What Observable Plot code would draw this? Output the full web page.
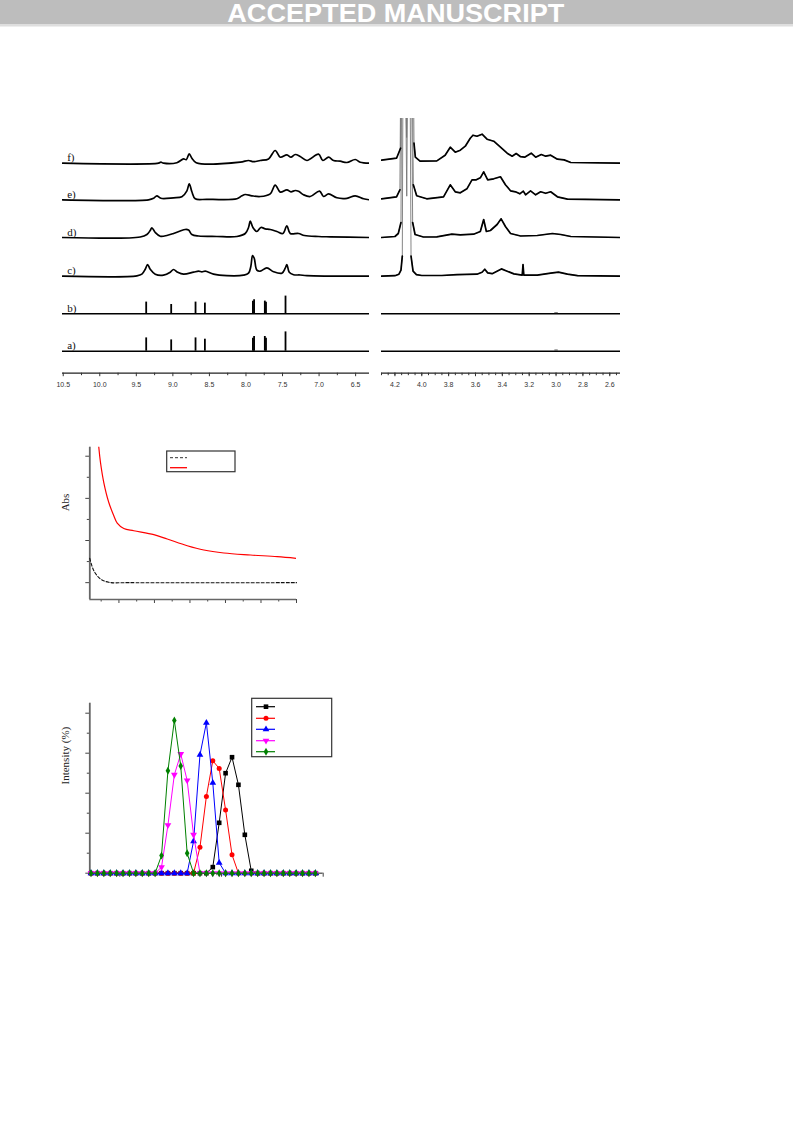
<!DOCTYPE html>
<html><head><meta charset="utf-8">
<script src="https://cdn.jsdelivr.net/npm/d3@7"></script>
<script src="https://cdn.jsdelivr.net/npm/@observablehq/plot@0.6"></script>
<style>
body{margin:0;background:#fff;}
#page{position:relative;width:793px;height:1121px;overflow:hidden;background:#fff;}
#page svg{position:absolute;overflow:visible;}
</style></head><body><div id="page"></div>
<script>
// ---------------- DATA ----------------
// 1H NMR, aromatic region (ppm, intensity in arbitrary units)
const nmrLeftMajorTicks = [10.5, 10.0, 9.5, 9.0, 8.5, 8.0, 7.5, 7.0, 6.5];
const nmrLeftMinorTicks = [10.25, 9.75, 9.25, 8.75, 8.25, 7.75, 7.25, 6.75];
const nmrRightMajorTicks = [4.2, 4.0, 3.8, 3.6, 3.4, 3.2, 3.0, 2.8, 2.6];
const nmrTraceLabels = ["a)", "b)", "c)", "d)", "e)", "f)"];

// sharp lines of traces a) and b)
const stickPpm = [9.365, 9.023, 8.69, 8.562, 7.905, 7.889, 7.742, 7.726, 7.459];
const stickA = [13.3, 11.3, 13.3, 12, 13, 14.7, 14.7, 13, 19.3];
const stickB = [11.7, 9.3, 11.7, 10.7, 12.5, 14, 12.7, 11.5, 17.7];
const stickRightPpm = [3.008, 3.0, 2.992];
const stickRightA = [1.3, 1.3, 1.3];
const stickRightB = [1.3, 1.3, 1.3];

const nmrLeftC = [[10.51,0],[9.492,0.3],[9.424,2],[9.378,7],[9.346,11.7],[9.31,7],[9.241,2],[9.128,1],[9.036,4],[8.991,6.7],[8.936,4],[8.854,2],[8.717,4],[8.649,5],[8.603,4.3],[8.557,5],[8.444,2],[8.261,0.5],[8.033,1],[7.965,3],[7.933,10],[7.91,20.7],[7.887,18],[7.851,6],[7.805,5],[7.714,8.3],[7.623,4.5],[7.509,3],[7.463,8],[7.44,11.7],[7.408,4],[7.349,1.5],[7.258,1.2],[7.166,0.5],[6.31,0]];
const nmrLeftD = [[10.51,0],[9.447,0.5],[9.355,3],[9.31,7],[9.287,9.7],[9.241,5],[9.173,1.3],[9.082,2],[8.991,4],[8.9,6.5],[8.831,8],[8.786,7.5],[8.74,3],[8.649,1.5],[8.398,1],[8.124,1],[8.01,4],[7.965,10],[7.942,16.3],[7.905,10],[7.851,6],[7.796,10],[7.737,8.7],[7.668,8],[7.577,6],[7.495,4],[7.44,11.7],[7.395,4],[7.281,4],[7.2,2],[7.007,1],[6.847,0.7],[6.31,0]];
const nmrLeftE = [[10.51,0],[9.333,0],[9.264,1.5],[9.219,4],[9.164,1.5],[8.991,2],[8.877,3],[8.808,9],[8.776,16],[8.74,8],[8.694,1],[8.535,0.5],[8.124,1],[8.056,4],[8.01,5.3],[7.919,4],[7.805,3.3],[7.668,6],[7.6,14.7],[7.531,7.7],[7.44,10],[7.385,8],[7.326,9.3],[7.281,8.5],[7.212,5],[7.121,3.3],[6.993,8.7],[6.939,3.3],[6.87,6],[6.756,2],[6.619,1.5],[6.505,4],[6.391,1],[6.31,0]];
const nmrLeftF = [[10.51,0],[9.196,0],[9.164,1],[9.128,0],[8.945,0.5],[8.854,4.3],[8.817,3.5],[8.776,9.3],[8.74,5],[8.681,0.5],[8.079,1],[7.965,2.7],[7.897,1.5],[7.805,2.7],[7.691,4.3],[7.6,12.7],[7.531,6],[7.44,8.3],[7.385,6],[7.326,8.7],[7.258,6.7],[7.166,2.7],[7.007,9],[6.948,2.7],[6.87,6],[6.802,2.7],[6.711,2],[6.619,0.7],[6.505,3.7],[6.437,1],[6.31,0]];

// aliphatic region
const nmrRightC = [[4.30,0],[4.20,0.5],[4.17,2],[4.155,6],[4.145,20],[4.135,400],[4.112,80],[4.095,400],[4.08,20],[4.065,5],[4.04,1.5],[4.0,0.7],[3.85,0.7],[3.738,1.5],[3.589,2],[3.551,4],[3.531,7],[3.509,3.3],[3.476,2.5],[3.407,7.3],[3.364,5],[3.314,2.3],[3.252,1],[3.246,11.7],[3.24,1],[3.14,1],[3.04,3],[2.982,4],[2.915,2],[2.84,0.5],[2.52,0]];
const nmrRightD = [[4.30,0],[4.20,1],[4.175,4],[4.155,15],[4.142,400],[4.113,100],[4.088,400],[4.068,15],[4.05,3],[3.988,0.5],[3.888,0.7],[3.776,3.3],[3.713,2.7],[3.614,3.3],[3.564,6],[3.539,18],[3.519,6],[3.489,7],[3.439,13],[3.409,18.7],[3.377,11],[3.339,4],[3.264,1.5],[3.14,2],[3.027,4],[2.965,3],[2.89,1],[2.52,0]];
const nmrRightE = [[4.30,1],[4.188,3],[4.163,10],[4.142,400],[4.112,140],[4.09,400],[4.063,15],[4.038,4],[3.963,1],[3.838,3],[3.788,15],[3.751,8],[3.713,7],[3.664,11],[3.626,20],[3.594,20],[3.564,22],[3.539,28],[3.509,20],[3.464,21],[3.414,23],[3.377,15],[3.339,9],[3.302,8],[3.27,6],[3.244,8.7],[3.227,5],[3.19,9],[3.152,5],[3.115,8],[3.077,6.5],[3.04,8],[2.99,3],[2.915,0.7],[2.52,0]];
const nmrRightF = [[4.30,3],[4.188,5],[4.158,15],[4.14,400],[4.112,200],[4.08,400],[4.058,20],[4.048,6],[4.013,2],[3.888,2.3],[3.826,8],[3.788,16],[3.751,11],[3.713,13],[3.676,17],[3.639,25],[3.619,28],[3.589,27],[3.551,29],[3.514,24],[3.464,22],[3.414,16],[3.364,10],[3.327,7],[3.297,9.7],[3.264,6.5],[3.234,6],[3.185,10],[3.152,6],[3.11,8.7],[3.077,7],[3.04,8],[2.99,4],[2.94,3.3],[2.89,0.7],[2.52,0]];

// UV-vis
const uvMajorX = [300, 400, 500, 600, 700, 800];
const uvMinorX = [250, 350, 450, 550, 650, 750];
const uvMajorY = [0, 0.5, 1.0, 1.5];
const uvMinorY = [0.25, 0.75, 1.25];
const uvRedNm  = [238, 243.4, 248.1, 257.4, 271.5, 285.6, 295.2, 313.8, 341.9, 398.3, 436, 492.4, 539.1, 595.5, 670.6, 745.9, 800];
const uvRedAbs = [1.9, 1.603, 1.425, 1.188, 0.951, 0.794, 0.707, 0.643, 0.616, 0.569, 0.518, 0.438, 0.387, 0.352, 0.328, 0.308, 0.288];
const uvDashNm  = [218, 229.3, 248.1, 271.5, 330, 800];
const uvDashAbs = [0.288, 0.142, 0.044, 0.004, 0, 0];

// DLS
const dlsMajorX = [10, 100, 1000];
const dlsMinorX = [6, 7, 8, 9, 20, 30, 40, 50, 60, 70, 80, 90, 200, 300, 400, 500, 600, 700, 800, 900];
const dlsMajorY = [0, 5, 10, 15, 20];
const dlsMinorY = [2.5, 7.5, 12.5, 17.5];
const dlsSize = [5.21, 6.02, 6.97, 8.05, 9.31, 10.76, 12.45, 14.39, 16.63, 19.24, 22.24, 25.71, 29.73, 34.38, 39.74, 45.95, 53.13, 61.42, 71.02, 82.11, 94.93, 109.7, 126.9, 146.7, 169.6, 196.1, 226.7, 262.1, 303.1, 350.5, 405.2, 468.5, 541.7, 626.2, 724.0, 837.1];
const dlsBlack   = [0,0,0,0,0,0,0,0,0,0,0,0,0,0,0,0,0,0,0,0.76,6.3,12.5,14.5,11.05,4.8,0.3,0,0,0,0,0,0,0,0,0,0];
const dlsRed     = [0,0,0,0,0,0,0,0,0,0,0,0,0,0,0,0,0,3.25,9.6,14.05,13.1,7.9,2.3,0,0,0,0,0,0,0,0,0,0,0,0,0];
const dlsBlue    = [0,0,0,0,0,0,0,0,0,0,0,0,0,0,0,0,4.0,14.8,18.8,11.3,1.3,0,0,0,0,0,0,0,0,0,0,0,0,0,0,0];
const dlsMagenta = [0,0,0,0,0,0,0,0,0,0,0,0.76,6.0,12.3,14.9,11.6,4.8,0,0,0,0,0,0,0,0,0,0,0,0,0,0,0,0,0,0,0];
const dlsGreen   = [0,0,0,0,0,0,0,0,0,0,0,2.2,12.8,19.1,13.4,2.5,0,0,0,0,0,0,0,0,0,0,0,0,0,0,0,0,0,0,0,0];

// ---------------- LAYOUT / STYLE ----------------
const page = document.getElementById("page");
function place(el, left, top){ el.style.left = left + "px"; el.style.top = top + "px"; page.appendChild(el); return el; }
const serif = "'Liberation Serif', 'Times New Roman', serif";
const sans = "'Liberation Sans', Arial, sans-serif";

// banner
(function(){
  const s = d3.select(page).append("svg").attr("width", 793).attr("height", 27).style("left","0px").style("top","0px");
  s.append("rect").attr("width", 793).attr("height", 24.5).attr("fill", "#bdbdbd");
  s.append("rect").attr("y", 24.5).attr("width", 793).attr("height", 2).attr("fill", "#dedede");
  s.append("text").attr("x", 395.8).attr("y", 22).attr("text-anchor", "middle")
    .attr("textLength", 337).attr("lengthAdjust", "spacingAndGlyphs")
    .attr("font-family", sans).attr("font-weight", "bold").attr("font-size", 25.5)
    .attr("fill", "#ffffff").text("ACCEPTED MANUSCRIPT");
})();

// NMR panels
const baseOffsets = [22, 59.4, 97, 135.7, 173.4, 210];
function traceRows(list){
  return list.flatMap(([i, pts]) => pts.map(([ppm, h]) => ({ppm, h, y: baseOffsets[i] + h, k: i})));
}
function stickRows(i, ppms, hs){
  return ppms.map((p, j) => ({ppm: p, y1: baseOffsets[i], y2: baseOffsets[i] + hs[j]}));
}
const nmrY = {domain: [0, 254.7], axis: null};

const leftRows = traceRows([[2, nmrLeftC], [3, nmrLeftD], [4, nmrLeftE], [5, nmrLeftF]]);
const leftSticks = stickRows(0, stickPpm, stickA).concat(stickRows(1, stickPpm, stickB));
const labelRows = nmrTraceLabels.map((t, i) => ({t, y: baseOffsets[i]}));

const leftPlot = Plot.plot({
  width: 340, height: 290,
  marginLeft: 22, marginRight: 11, marginTop: 8, marginBottom: 27.3,
  x: {domain: [10.51, 6.31]},
  y: nmrY,
  style: {fontFamily: sans, fontSize: "7px", color: "#333", background: "transparent"},
  marks: [
    Plot.ruleY([nmrY.domain[0]], {stroke: "#222", strokeWidth: 1.2}),
    Plot.axisX({ticks: nmrLeftMinorTicks, tickSize: 2.5, tickFormat: () => "", label: null}),
    Plot.axisX({ticks: nmrLeftMajorTicks, tickSize: 3.5, tickPadding: 5, tickFormat: d => d.toFixed(1), label: null}),
    Plot.ruleY([baseOffsets[0], baseOffsets[1]], {stroke: "#000", strokeWidth: 1.5}),
    Plot.ruleX(leftSticks, {x: "ppm", y1: "y1", y2: "y2", stroke: "#000", strokeWidth: 1.8}),
    Plot.line(leftRows, {x: "ppm", y: "y", z: "k", stroke: "#000", strokeWidth: 1.7, curve: "catmull-rom", clip: true}),
    Plot.text(labelRows, {frameAnchor: "left", y: "y", text: "t", dx: 4.7, dy: -2, lineAnchor: "bottom", textAnchor: "start", fontFamily: serif, fontSize: 11, fill: "#111"})
  ]
});
place(leftPlot, 40, 110);

const rightRows = traceRows([[2, nmrRightC], [3, nmrRightD], [4, nmrRightE], [5, nmrRightF]]);
const rightSticks = stickRows(0, stickRightPpm, stickRightA).concat(stickRows(1, stickRightPpm, stickRightB));
const rightMinor = d3.range(51, 87).map(i => +(i * 0.05).toFixed(2));

const rightPlot = Plot.plot({
  width: 260, height: 290,
  marginLeft: 11, marginRight: 10, marginTop: 8, marginBottom: 27.3,
  x: {domain: [4.30, 2.52]},
  y: nmrY,
  style: {fontFamily: sans, fontSize: "7px", color: "#333", background: "transparent"},
  marks: [
    Plot.ruleY([nmrY.domain[0]], {stroke: "#222", strokeWidth: 1.2}),
    Plot.axisX({ticks: rightMinor, tickSize: 2.5, tickFormat: () => "", label: null}),
    Plot.axisX({ticks: nmrRightMajorTicks, tickSize: 3.5, tickPadding: 5, tickFormat: d => d.toFixed(1), label: null}),
    Plot.ruleY([baseOffsets[0], baseOffsets[1]], {stroke: "#000", strokeWidth: 1.5}),
    Plot.ruleX(rightSticks, {x: "ppm", y1: "y1", y2: "y2", stroke: "#333", strokeWidth: 0.8}),
    Plot.line(rightRows, {x: "ppm", y: "y", z: "k", stroke: "#777", strokeWidth: 0.9, clip: true}),
    Plot.line(rightRows, {x: "ppm", y: d => d.h > 40 ? NaN : d.y, z: "k", stroke: "#000", strokeWidth: 1.7, clip: true})
  ]
});
place(rightPlot, 370, 110);

// UV-vis
const uvRed = uvRedNm.map((x, i) => ({x, y: uvRedAbs[i]}));
const uvDash = uvDashNm.map((x, i) => ({x, y: uvDashAbs[i]}));
const uvX = {domain: [218, 800]};
const uvY = {domain: [-0.2, 1.607]};
const axisGray = "#666";
const uvPlot = Plot.plot({
  width: 260, height: 175,
  marginLeft: 39.3, marginRight: 14, marginTop: 11.7, marginBottom: 11,
  x: uvX, y: uvY,
  style: {fontFamily: serif, fontSize: "10px", color: "#444", background: "transparent"},
  marks: [
    Plot.axisY({ticks: uvMajorY, tickSize: 4, tickFormat: () => "", label: null}),
    Plot.axisY({ticks: uvMinorY, tickSize: 2.5, tickFormat: () => "", label: null}),
    Plot.axisX({ticks: uvMajorX, tickSize: 4, tickFormat: () => "", label: null}),
    Plot.axisX({ticks: uvMinorX, tickSize: 2.5, tickFormat: () => "", label: null}),
    Plot.ruleX([uvX.domain[0]], {stroke: axisGray, strokeWidth: 1.8}),
    Plot.ruleY([uvY.domain[0]], {stroke: axisGray, strokeWidth: 1.4}),
    Plot.line(uvDash, {x: "x", y: "y", stroke: "#111", strokeWidth: 1.1, strokeDasharray: "3,2", curve: "catmull-rom"}),
    Plot.line(uvRed, {x: "x", y: "y", stroke: "#ff0000", strokeWidth: 1.2, curve: "catmull-rom", clip: true}),
    Plot.text(["Abs"], {frameAnchor: "left", rotate: -90, dx: -24.3, dy: -12, fontFamily: serif, fontSize: 11, fill: "#222"})
  ]
});
place(uvPlot, 50, 435);

// UV legend (entries carry no text in the reference)
(function(){
  const s = d3.select(page).append("svg").attr("width", 72).attr("height", 24).style("left", "166px").style("top", "450px");
  s.append("rect").attr("x", 0.7).attr("y", 1).attr("width", 68.3).attr("height", 20.7).attr("fill", "#fff").attr("stroke", "#333").attr("stroke-width", 1.2);
  s.append("line").attr("x1", 4).attr("x2", 21).attr("y1", 7.7).attr("y2", 7.7).attr("stroke", "#333").attr("stroke-width", 1).attr("stroke-dasharray", "3,2");
  s.append("line").attr("x1", 4).attr("x2", 21).attr("y1", 17.7).attr("y2", 17.7).attr("stroke", "#ff0000").attr("stroke-width", 1.3);
})();

// DLS
const dlsSeries = [
  {key: "s1", values: dlsBlack,   color: "#000000", symbol: "square",   rotate: 0,   r: 2.6},
  {key: "s2", values: dlsRed,     color: "#ff0000", symbol: "circle",   rotate: 0,   r: 2.5},
  {key: "s3", values: dlsBlue,    color: "#0000ff", symbol: "triangle", rotate: 0,   r: 2.5},
  {key: "s4", values: dlsMagenta, color: "#ff00ff", symbol: "triangle", rotate: 180, r: 2.5},
  {key: "s5", values: dlsGreen,   color: "#008000", symbol: "diamond",  rotate: 0,   r: 2.4}
];
const dlsX = {type: "log", domain: [5.07, 1000]};
const dlsY = {domain: [0, 21.25]};
const dlsMarks = [
  Plot.axisY({ticks: dlsMajorY, tickSize: 4, tickFormat: () => "", label: null}),
  Plot.axisY({ticks: dlsMinorY, tickSize: 2.5, tickFormat: () => "", label: null}),
  Plot.axisX({ticks: dlsMajorX, tickSize: 4, tickFormat: () => "", label: null}),
  Plot.axisX({ticks: dlsMinorX, tickSize: 2.5, tickFormat: () => "", label: null}),
  Plot.ruleX([dlsX.domain[0]], {stroke: axisGray, strokeWidth: 1.8}),
  Plot.ruleY([dlsY.domain[0]], {stroke: axisGray, strokeWidth: 1.4}),
  Plot.text(["Intensity (%)"], {frameAnchor: "left", rotate: -90, dx: -24.3, dy: -3.7, fontFamily: serif, fontSize: 11, fill: "#222"})
];
for (const s of dlsSeries) {
  const rows = dlsSize.map((x, i) => ({x, y: s.values[i]}));
  dlsMarks.push(Plot.line(rows, {x: "x", y: "y", stroke: s.color, strokeWidth: 1}));
  dlsMarks.push(Plot.dot(rows, {x: "x", y: "y", symbol: () => s.symbol, fill: s.color, stroke: "none", r: s.r, rotate: s.rotate}));
}
const dlsPlot = Plot.plot({
  width: 290, height: 195,
  marginLeft: 39.3, marginRight: 17.3, marginTop: 12.7, marginBottom: 12.3,
  x: dlsX, y: dlsY,
  symbol: {type: "identity"},
  style: {fontFamily: serif, fontSize: "10px", color: "#444", background: "transparent"},
  marks: dlsMarks
});
place(dlsPlot, 50, 690);

// DLS legend (entries carry no text in the reference)
(function(){
  const s = d3.select(page).append("svg").attr("width", 84).attr("height", 62).style("left", "251px").style("top", "697px");
  s.append("rect").attr("x", 0.7).attr("y", 1.3).attr("width", 80).attr("height", 58.4).attr("fill", "#fff").attr("stroke", "#333").attr("stroke-width", 1.2);
  const symMap = {square: d3.symbolSquare, circle: d3.symbolCircle, triangle: d3.symbolTriangle, diamond: d3.symbolDiamond};
  dlsSeries.forEach((d, i) => {
    const y = [9.7, 21.3, 32.3, 43.7, 54.7][i];
    s.append("line").attr("x1", 5).attr("x2", 24).attr("y1", y).attr("y2", y).attr("stroke", d.color).attr("stroke-width", 1.2);
    s.append("path").attr("d", d3.symbol(symMap[d.symbol], Math.PI * d.r * d.r)())
      .attr("transform", `translate(15,${y}) rotate(${d.rotate})`).attr("fill", d.color);
  });
})();
</script></body></html>
